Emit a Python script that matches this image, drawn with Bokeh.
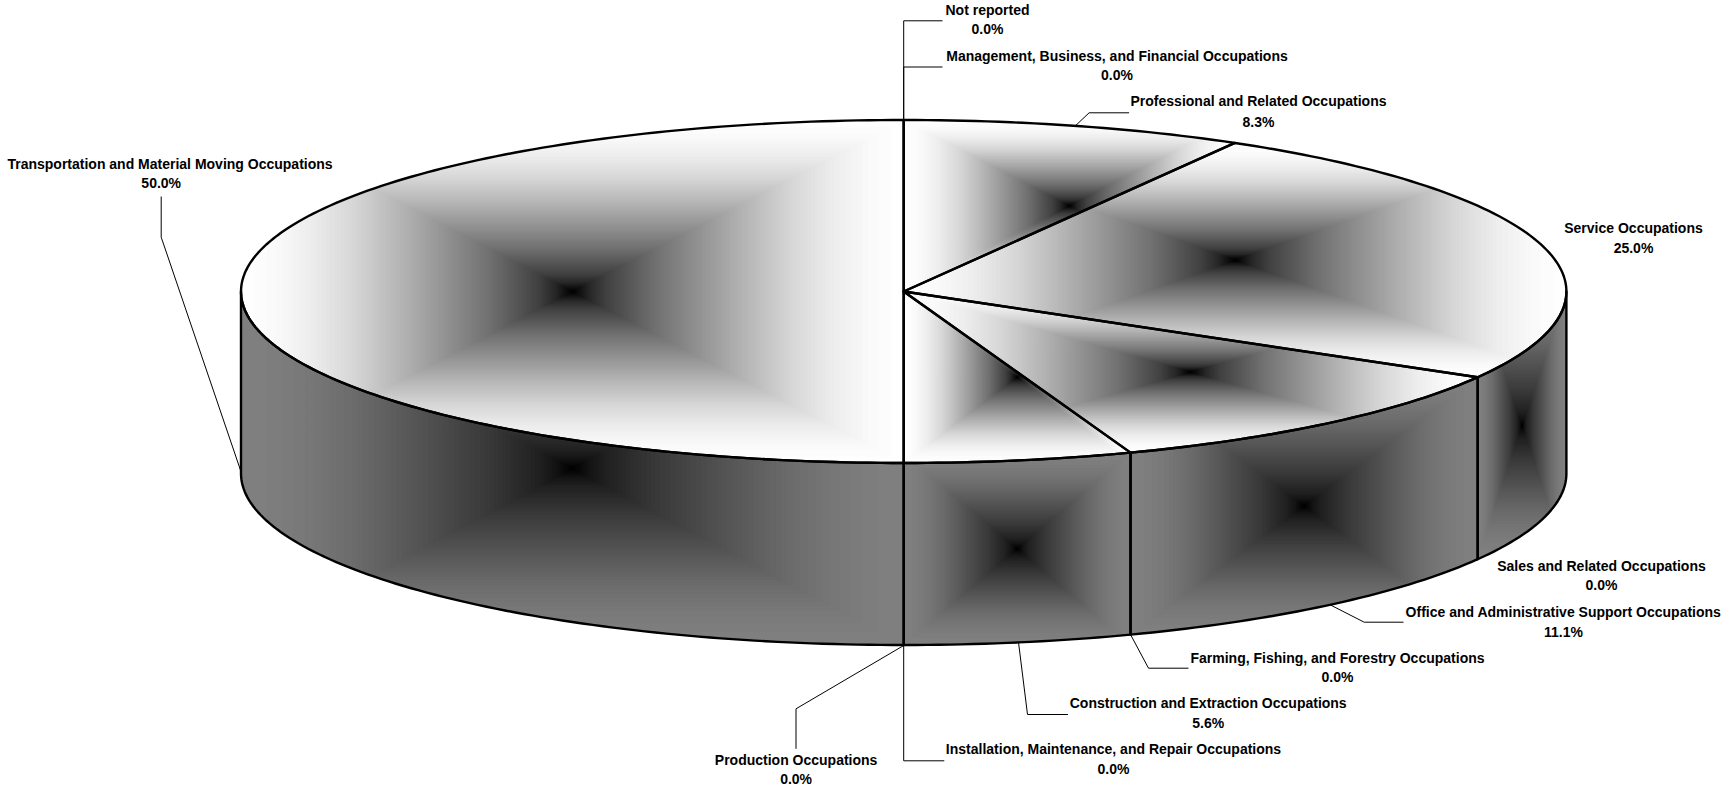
import math
import numpy as np
from bokeh.plotting import figure
from bokeh.models import ColumnDataSource
from bokeh.core.properties import value
from bokeh.embed import file_html
from bokeh.resources import INLINE

# Clockwise from 12 o'clock
categories = ["Management, Business, and Financial Occupations", "Professional and Related Occupations",
              "Service Occupations", "Sales and Related Occupations",
              "Office and Administrative Support Occupations", "Farming, Fishing, and Forestry Occupations",
              "Construction and Extraction Occupations", "Installation, Maintenance, and Repair Occupations",
              "Production Occupations", "Transportation and Material Moving Occupations", "Not reported"]
shares = [0.0, 8.33, 25.0, 0.0, 11.11, 0.0, 5.56, 0.0, 0.0, 50.0, 0.0]
pct_labels = ["0.0%", "8.3%", "25.0%", "0.0%", "11.1%", "0.0%", "5.6%", "0.0%", "0.0%", "50.0%", "0.0%"]

name_x = [1116.5, 1258, 1633, 1601, 1563, 1337, 1207.7, 1113, 795.6, 169.5, 987]
name_y = [55, 100, 227.5, 565, 611, 657, 702, 748.5, 759.5, 163.3, 9]
pct_x = [1116.5, 1258, 1633, 1601, 1563, 1337, 1207.7, 1113, 795.6, 160.7, 987]
pct_y = [74.5, 121, 247, 584, 631, 676, 722, 768, 778.5, 182.5, 28.5]

CX, CY, RX, RY, DEPTH = 903.2, 291.0, 662.7, 171.5, 182.0
EDGE = 2.4
# gradient tone (0 black .. 1 edge colour) against distance from the box centre
RAMP_T = [0.0, 0.05, 0.1, 0.25, 0.5, 0.66, 0.79, 0.9, 1.0]
RAMP_TONE = [0.0, 0.15, 0.25, 0.44, 0.69, 0.84, 0.93, 0.98, 1.0]


def pt(frac, dz=0.0):
    a = 2 * math.pi * frac
    return CX + RX * math.sin(a), CY - RY * math.cos(a) + dz


def arc(f0, f1, dz=0.0):
    n = max(2, int(abs(f1 - f0) * 360))
    return [pt(f0 + (f1 - f0) * i / n, dz) for i in range(n + 1)]


def clip(poly, x0, x1, y0, y1):
    def cut(pts, inside, inter):
        out = []
        for i, c in enumerate(pts):
            p = pts[i - 1]
            if inside(c):
                if not inside(p):
                    out.append(inter(p, c))
                out.append(c)
            elif inside(p):
                out.append(inter(p, c))
        return out

    def ix(v):
        return lambda p, c: (v, p[1] + (c[1] - p[1]) * (v - p[0]) / (c[0] - p[0]))

    def iy(v):
        return lambda p, c: (p[0] + (c[0] - p[0]) * (v - p[1]) / (c[1] - p[1]), v)

    r = poly
    for ins, it in [(lambda q: q[0] >= x0, ix(x0)), (lambda q: q[0] <= x1, ix(x1)),
                    (lambda q: q[1] >= y0, iy(y0)), (lambda q: q[1] <= y1, iy(y1))]:
        if not r:
            return r
        r = cut(r, ins, it)
    return r


def hexgray(v):
    g = max(0, min(255, round(v)))
    return "#%02x%02x%02x" % (g, g, g)


xs, ys, cols = [], [], []


def shade(poly, top_gray):
    xv = [q[0] for q in poly]
    yv = [q[1] for q in poly]
    x0, x1, y0, y1 = min(xv), max(xv), min(yv), max(yv)
    mx, my, hw, hh = (x0 + x1) / 2, (y0 + y1) / 2, (x1 - x0) / 2, (y1 - y0) / 2
    # one band per grey step, from the bounding box's edge to its centre
    for g in range(int(top_gray), 0, -2):
        t = float(np.interp(g / top_gray, RAMP_TONE, RAMP_T))
        c = clip(poly, mx - hw * t, mx + hw * t, my - hh * t, my + hh * t)
        if len(c) >= 3:
            xs.append([q[0] for q in c])
            ys.append([q[1] for q in c])
            cols.append(hexgray(g - 1))


outline_x, outline_y = [], []
start = 0.0
total = sum(shares)
for s in shares:
    if s <= 0:
        continue
    f0, f1 = start, start + s / total
    start = f1
    # visible part of the outer wall: the front half of the ellipse
    w0, w1 = max(f0, 0.25), min(f1, 0.75)
    if w1 > w0:
        wall = arc(w0, w1) + arc(w1, w0, DEPTH)
        shade(wall, 128)
        outline_x.append([q[0] for q in wall])
        outline_y.append([q[1] for q in wall])

start = 0.0
for s in shares:
    if s <= 0:
        continue
    f0, f1 = start, start + s / total
    start = f1
    face = [(CX, CY)] + arc(f0, f1)
    shade(face, 255)
    outline_x.append([q[0] for q in face])
    outline_y.append([q[1] for q in face])

# leader lines: from the pie to the label
leaders_x = [[903.2, 903.2, 942], [1074.8, 1088.6, 1128.6], [1329, 1363.7, 1403], [1130, 1148, 1188],
             [1018, 1027, 1067.4], [903.2, 903.2, 943.8], [903.2, 795.5, 795.5], [240.7, 160.7, 160.7],
             [903.2, 903.2, 942]]
leaders_y = [[120, 66.5, 66.5], [125.4, 112.3, 112.3], [604, 621.7, 621.7], [634, 667.7, 667.7],
             [641.8, 714, 714], [645, 760.3, 760.3], [645, 708.3, 748.3], [471.7, 236.7, 196],
             [120, 20.3, 20.3]]

p = figure(width=1731, height=794, x_range=(-8, 1723), y_range=(786, -8), output_backend="svg",
           toolbar_location=None, min_border=0, outline_line_color=None, margin=(-8, -8, -8, -8))
p.xaxis.visible = False
p.yaxis.visible = False
p.grid.visible = False
p.background_fill_color = "#ffffff"

p.multi_line(leaders_x, leaders_y, line_color="#000000", line_width=1)
p.patches(xs, ys, fill_color=cols, line_color=None)
p.patches(outline_x, outline_y, fill_color=None, line_color="#000000", line_width=EDGE, line_join="round")

src = ColumnDataSource(dict(name=categories, pct=pct_labels, nx=name_x, ny=name_y, px=pct_x, py=pct_y))
for tx, ty, col in [("nx", "ny", "name"), ("px", "py", "pct")]:
    p.text(x=tx, y=ty, text=col, source=src, text_align="center", text_baseline="middle",
           text_font=value("Liberation Sans"), text_font_style="bold", text_font_size="14px",
           text_color="#000000")

open("out.html", "w").write(file_html(p, INLINE))
